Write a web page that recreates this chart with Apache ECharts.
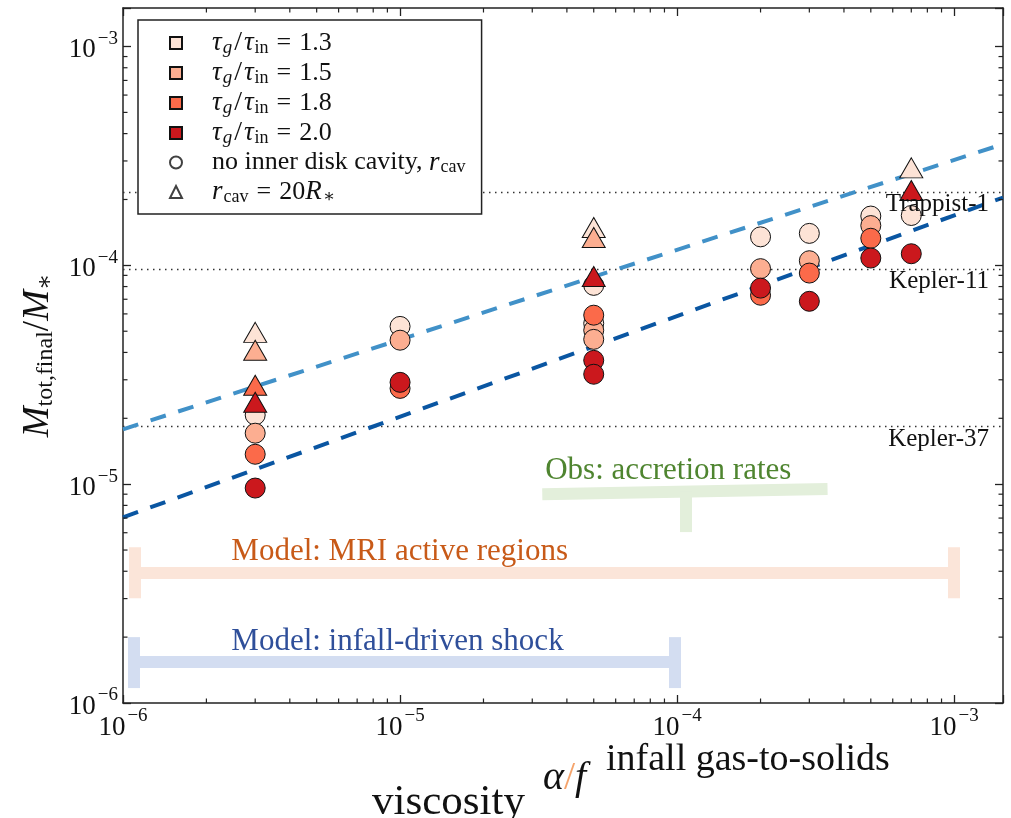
<!DOCTYPE html>
<html><head><meta charset="utf-8">
<script src="https://cdn.jsdelivr.net/npm/echarts@6/dist/echarts.min.js"></script>
<style>html,body{margin:0;padding:0;background:#fff}#c{width:1011px;height:818px}</style>
</head><body><div id="c"></div>
<script>
// ---------- data ----------
const xRange = [1e-6, 1.5e-3];
const yRange = [1e-6, 1.5e-3];
const ratioLabels = ['1.3', '1.5', '1.8', '2.0'];
const ratioColors = ['#fde3d6', '#fcae91', '#fb6a4a', '#cb181d'];

// circles: no inner disk cavity  [alpha/f, M_tot,final/M_*]
const circles13 = [[3e-6, 2.07e-5], [1e-5, 5.26e-5], [5e-5, 8.1e-5], [5e-5, 5.43e-5], [2e-4, 1.35e-4], [3e-4, 1.40e-4], [5e-4, 1.68e-4], [7e-4, 1.69e-4]];
const circles15 = [[3e-6, 1.71e-5], [1e-5, 4.55e-5], [5e-5, 5.05e-5], [5e-5, 4.59e-5], [2e-4, 9.66e-5], [3e-4, 1.05e-4], [5e-4, 1.52e-4]];
const circles18 = [[3e-6, 1.37e-5], [1e-5, 2.74e-5], [5e-5, 5.92e-5], [2e-4, 7.3e-5], [3e-4, 9.22e-5], [5e-4, 1.33e-4]];
const circles20 = [[3e-6, 9.6e-6], [1e-5, 2.92e-5], [5e-5, 3.68e-5], [5e-5, 3.18e-5], [2e-4, 7.87e-5], [3e-4, 6.85e-5], [5e-4, 1.08e-4], [7e-4, 1.13e-4]];
// triangles: r_cav = 20 R_*
const tri13 = [[3e-6, 4.94e-5], [5e-5, 1.49e-4], [7e-4, 2.79e-4]];
const tri15 = [[3e-6, 4.09e-5], [5e-5, 1.34e-4]];
const tri18 = [[3e-6, 2.83e-5]];
const tri20 = [[3e-6, 2.37e-5], [5e-5, 8.9e-5], [7e-4, 2.2e-4]];

// dashed trend lines
const trendLight = [[1e-6, 1.78e-5], [1.5e-3, 3.58e-4]];
const trendDark = [[1e-6, 7.05e-6], [1.5e-3, 2.04e-4]];

// reference planetary systems
const planetNames = ['Trappist-1', 'Kepler-11', 'Kepler-37'];
const planetMasses = [2.16e-4, 9.6e-5, 1.83e-5];

// model ranges (horizontal bars with end caps)
const rangeNames = ['Model: infall-driven shock', 'Model: MRI active regions'];
const rangeAlphaLo = [1.09e-6, 1.1e-6];
const rangeAlphaHi = [9.8e-5, 1.0e-3];
const rangeMass = [1.54e-6, 3.95e-6];
const rangeCapLo = [1.17e-6, 3.01e-6];
const rangeCapHi = [2.0e-6, 5.15e-6];
const rangeLabelAnchor = [[2.46e-6, 1.9e-6], [2.46e-6, 4.89e-6]];
// observed accretion-rate range (T shape)
const obsName = 'Obs: accretion rates';
const obsAlpha = [3.26e-5, 3.49e-4];
const obsMass = [9.0e-6, 9.5e-6];
const obsStemAlpha = 1.07e-4;
const obsStemMass = [9.25e-6, 6.04e-6];
const obsLabelAnchor = [3.34e-5, 1.147e-5];

// ---------- styling ----------
const serif = '"Liberation Serif", "DejaVu Serif", serif';
const ink = '#222';
const rangeColors = ['#d3ddf1', '#fbe5d9'];
const rangeTextColors = ['#2f4f9a', '#c85a18'];
const obsColor = '#e3efdb';
const obsTextColor = '#4f8530';

function powLabel(v) {
  const e = Math.log10(v), r = Math.round(e);
  if (Math.abs(e - r) > 1e-6) return '';
  return '{b|10}{s|\u2212' + (-r) + '}';
}
const tickRich = {
  b: {fontFamily: serif, fontSize: 27, lineHeight: 34, verticalAlign: 'bottom', color: '#111'},
  s: {fontFamily: serif, fontSize: 19, lineHeight: 22, verticalAlign: 'top', padding: [0, 0, 0, 2], color: '#111'}
};
function minorVals(lo, hi) {
  const out = [];
  for (let d = -7; d <= -2; d++) for (let k = 2; k <= 9; k++) {
    const v = k * Math.pow(10, d);
    if (v > lo * 1.0001 && v < hi * 0.9999) out.push(v);
  }
  return out;
}
function baseAxis(type, pos, showLabel) {
  return {
    type: 'log', logBase: 10, position: pos,
    min: type === 'x' ? xRange[0] : yRange[0],
    max: type === 'x' ? xRange[1] : yRange[1],
    axisLine: {show: true, onZero: false, lineStyle: {color: ink, width: 1.5}},
    axisTick: {show: true, inside: true, length: 8, lineStyle: {color: ink, width: 1.3}},
    minorTick: {show: false},
    splitLine: {show: false},
    axisLabel: {show: showLabel, formatter: powLabel, rich: tickRich, margin: type === 'x' ? 4 : 5,
      showMinLabel: true, showMaxLabel: true, hideOverlap: false},
    silent: true
  };
}

const series = [];
// range bars
const barData = [];
for (let i = 0; i < rangeNames.length; i++) {
  const ls = {color: rangeColors[i], width: 12, cap: 'butt', opacity: 1};
  barData.push({coords: [[rangeAlphaLo[i], rangeMass[i]], [rangeAlphaHi[i], rangeMass[i]]], lineStyle: ls});
  barData.push({coords: [[rangeAlphaLo[i], rangeCapLo[i]], [rangeAlphaLo[i], rangeCapHi[i]]], lineStyle: ls});
  barData.push({coords: [[rangeAlphaHi[i], rangeCapLo[i]], [rangeAlphaHi[i], rangeCapHi[i]]], lineStyle: ls});
}
const obsLs = {color: obsColor, width: 12, cap: 'butt', opacity: 1};
barData.push({coords: [[obsAlpha[0], obsMass[0]], [obsAlpha[1], obsMass[1]]], lineStyle: obsLs});
barData.push({coords: [[obsStemAlpha, obsStemMass[0]], [obsStemAlpha, obsStemMass[1]]], lineStyle: obsLs});
series.push({type: 'lines', coordinateSystem: 'cartesian2d', polyline: false, z: 1, silent: true,
  animation: false, effect: {show: false}, data: barData});
// range labels
const annData = rangeNames.map((n, i) => ({name: n, value: rangeLabelAnchor[i],
  itemStyle: {color: rangeTextColors[i]}, label: {color: rangeTextColors[i]}}));
annData.push({name: obsName, value: obsLabelAnchor, itemStyle: {color: obsTextColor}, label: {color: obsTextColor}});
series.push({type: 'scatter', z: 2, silent: true, animation: false, symbolSize: 0, data: annData,
  label: {show: true, position: 'right', distance: 0, formatter: '{b}', fontFamily: serif, fontSize: 31, opacity: 1}});

// planet reference lines: explicit end points across the x range (log axes)
const planetLineData = planetNames.map((n, i) => [
  {name: n, coord: [xRange[0], planetMasses[i]]},
  {coord: [xRange[1], planetMasses[i]]}
]);

// trend lines, carrying the planet reference lines (dotted) and their labels
series.push({type: 'line', data: trendLight, symbol: 'none', z: 2, silent: true, animation: false,
  lineStyle: {color: '#4191c8', width: 4, type: [16, 13]},
  markLine: {z: 1, silent: true, animation: false, symbol: ['none', 'none'],
    lineStyle: {type: [1.5, 4.5], color: '#333', width: 1.3},
    label: {show: false},
    data: planetLineData}});
series.push({type: 'line', data: trendDark, symbol: 'none', z: 2, silent: true, animation: false,
  lineStyle: {color: '#0a56a2', width: 4, type: [16, 13]},
  markLine: {z: 10, silent: true, animation: false, symbol: ['none', 'none'],
    lineStyle: {color: 'rgba(0,0,0,0)', width: 0.01, type: 'solid'},
    label: {show: true, position: 'insideEndBottom', formatter: '{b}', distance: [14, 0],
      fontFamily: serif, fontSize: 25, color: '#111', opacity: 1},
    data: planetLineData}});

// scatter markers
const circleSets = [circles13, circles15, circles18, circles20];
const triSets = [tri13, tri15, tri18, tri20];
const sName = r => 'ratio ' + r;
ratioLabels.forEach((r, i) => {
  series.push({type: 'scatter', name: sName(r), data: circleSets[i], symbol: 'circle', symbolSize: 20,
    z: 3, silent: true, animation: false,
    itemStyle: {color: ratioColors[i], borderColor: '#111', borderWidth: 1, opacity: 1}});
});
ratioLabels.forEach((r, i) => {
  series.push({type: 'scatter', name: sName(r), data: triSets[i], symbol: 'triangle', symbolSize: [23, 20],
    z: 3, silent: true, animation: false,
    itemStyle: {color: ratioColors[i], borderColor: '#111', borderWidth: 1, opacity: 1}});
});
series.push({type: 'scatter', name: 'noCav', data: [], symbol: 'circle',
  itemStyle: {color: '#fff', borderColor: '#111', borderWidth: 1}});
series.push({type: 'scatter', name: 'cav20', data: [], symbol: 'triangle',
  itemStyle: {color: '#fff', borderColor: '#111', borderWidth: 1}});

// minor ticks
series.push({type: 'custom', silent: true, animation: false, z: 5, clip: false,
  data: minorVals(xRange[0], xRange[1]).map(v => [v, 1e-5]),
  renderItem: (params, api) => {
    const p = api.coord([api.value(0), api.value(1)]);
    const cs = params.coordSys, L = 4.5, st = {stroke: ink, lineWidth: 1.2};
    return {type: 'group', children: [
      {type: 'line', shape: {x1: p[0], y1: cs.y + cs.height, x2: p[0], y2: cs.y + cs.height - L}, style: st},
      {type: 'line', shape: {x1: p[0], y1: cs.y, x2: p[0], y2: cs.y + L}, style: st}]};
  }});
series.push({type: 'custom', silent: true, animation: false, z: 5, clip: false,
  data: minorVals(yRange[0], yRange[1]).map(v => [1e-5, v]),
  renderItem: (params, api) => {
    const p = api.coord([api.value(0), api.value(1)]);
    const cs = params.coordSys, L = 4.5, st = {stroke: ink, lineWidth: 1.2};
    return {type: 'group', children: [
      {type: 'line', shape: {x1: cs.x, y1: p[1], x2: cs.x + L, y2: p[1]}, style: st},
      {type: 'line', shape: {x1: cs.x + cs.width, y1: p[1], x2: cs.x + cs.width - L, y2: p[1]}, style: st}]};
  }});

// legend text
const legendText = {};
ratioLabels.forEach(r => {
  legendText[sName(r)] = '{i0|\u03c4}{subi|g}{sl|/}{i|\u03c4}{sub|in}{eq|=}{r|' + r + '}';
});
legendText['noCav'] = '{r0|no inner disk cavity, }{i|r}{sub|cav}';
legendText['cav20'] = '{i0|r}{sub|cav}{eq|=}{r|20}{i|R}{sub|\u2217}';
const legendRich = {
  i0: {fontFamily: serif, fontStyle: 'italic', fontSize: 27, lineHeight: 28, padding: [0, 1, 0, 25], color: '#111'},
  r0: {fontFamily: serif, fontSize: 26, lineHeight: 28, padding: [0, 0, 0, 25], color: '#111'},
  i: {fontFamily: serif, fontStyle: 'italic', fontSize: 27, lineHeight: 28, padding: [0, 1, 0, 0], color: '#111'},
  r: {fontFamily: serif, fontSize: 26, lineHeight: 28, color: '#111'},
  sl: {fontFamily: serif, fontSize: 28, lineHeight: 28, padding: [0, 2, 0, 2], color: '#111'},
  eq: {fontFamily: serif, fontSize: 26, lineHeight: 28, padding: [0, 8, 0, 8], color: '#111'},
  sub: {fontFamily: serif, fontSize: 18, lineHeight: 16, verticalAlign: 'bottom', color: '#111'},
  subi: {fontFamily: serif, fontStyle: 'italic', fontSize: 19, lineHeight: 16, verticalAlign: 'bottom', color: '#111'}
};

const option = {
  backgroundColor: '#fff',
  animation: false,
  grid: {left: 123, right: 8, top: 8, bottom: 115, containLabel: false, outerBoundsMode: 'none'},
  xAxis: [baseAxis('x', 'bottom', true), baseAxis('x', 'top', false)],
  yAxis: [Object.assign(baseAxis('y', 'left', true), {
      name: '{i|M}{sub|tot,final}{r|/}{i|M}{sub|\u2217}',
      nameLocation: 'middle', nameRotate: 90, nameGap: 54,
      nameTextStyle: {rich: {
        i: {fontFamily: serif, fontStyle: 'italic', fontSize: 37, lineHeight: 40, color: '#111'},
        r: {fontFamily: serif, fontSize: 37, lineHeight: 40, color: '#111'},
        sub: {fontFamily: serif, fontSize: 24, lineHeight: 22, verticalAlign: 'bottom', color: '#111'}}}
    }), baseAxis('y', 'right', false)],
  legend: {
    left: 138, top: 20, orient: 'vertical', selectedMode: false,
    backgroundColor: '#fff', borderColor: ink, borderWidth: 1.5, borderRadius: 0,
    padding: [9, 16, 8, 31], itemWidth: 12, itemHeight: 12, itemGap: 2,
    data: ratioLabels.map(r => ({name: sName(r), icon: 'rect'}))
      .concat([{name: 'noCav', icon: 'circle'}, {name: 'cav20', icon: 'triangle'}]),
    formatter: n => legendText[n],
    textStyle: {rich: legendRich}
  },
  graphic: [
    {type: 'text', x: 543, y: 778, style: {text: '{i|\u03b1}{o|/}{i|f}', textVerticalAlign: 'middle',
      rich: {i: {fontFamily: serif, fontStyle: 'italic', fontSize: 40, fill: '#111'},
             o: {fontFamily: serif, fontSize: 40, fill: '#f5a46c'}}}},
    {type: 'text', x: 606, y: 760, style: {text: 'infall gas-to-solids', textVerticalAlign: 'middle',
      font: '38px ' + serif, fill: '#111'}},
    {type: 'text', x: 372, y: 803, style: {text: 'viscosity', textVerticalAlign: 'middle',
      font: '43px ' + serif, fill: '#111'}}
  ],
  series: series
};
const chart = echarts.init(document.getElementById('c'));
chart.setOption(option);
</script>
</body></html>
